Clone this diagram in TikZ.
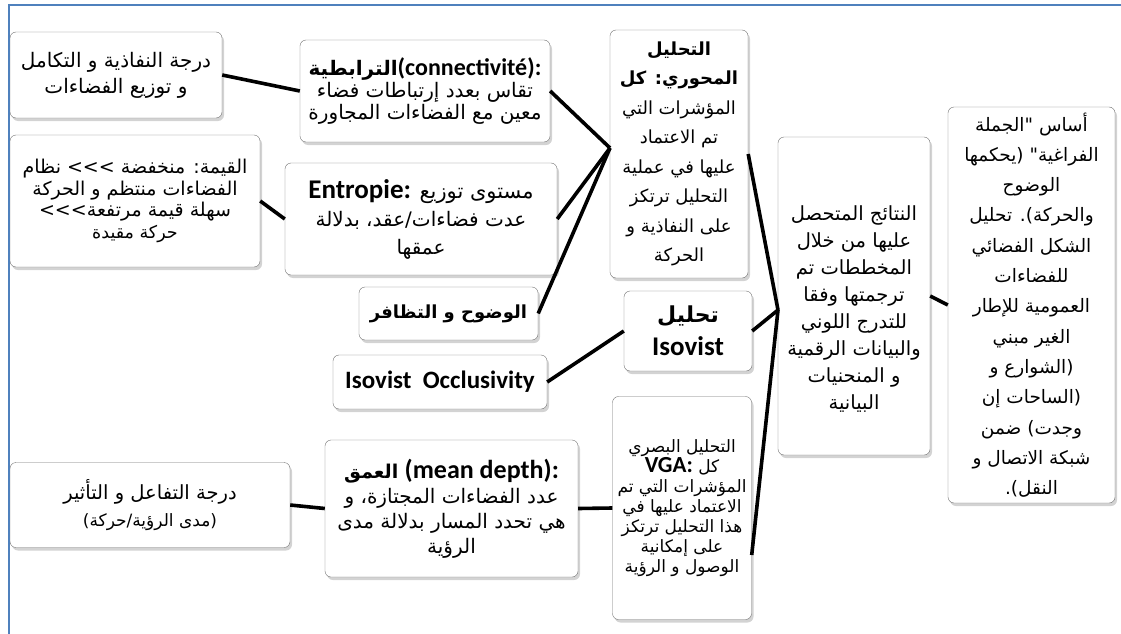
\documentclass[tikz,border=0pt]{standalone}
\usepackage{fontspec}
\setmainfont{DejaVu Sans}
\newfontfamily\arabicfont[Script=Arabic]{DejaVu Sans}
\newfontfamily\calibfont{Carlito}
\TeXXeTstate=1
\usetikzlibrary{shadows}

\newcommand{\artxt}[1]{{\arabicfont\beginR #1\endR}}
\newcommand{\lattxt}[1]{{\calibfont\bfseries #1}}
\newcommand{\fs}[2]{\fontsize{#1}{#2}\selectfont}

\definecolor{cadre}{RGB}{79,129,189}
\definecolor{bord}{RGB}{115,115,115}

\tikzset{
  boite/.style={draw=bord, fill=white, rounded corners=6pt, align=center, inner sep=1pt,
    drop shadow={shadow xshift=2pt, shadow yshift=-3pt, opacity=.35}},
  lien/.style={line width=3.6pt},
}

\begin{document}
\begin{tikzpicture}[x=1pt, y=-1pt]
    \useasboundingbox (0,0) rectangle (1121,634);

    % colonne de gauche
    \node[boite, minimum width=212pt, minimum height=86pt, font=\fs{20}{26}] (perm) at (116,75)
        {\artxt{درجة النفاذية و التكامل}\\\artxt{و توزيع الفضاءات}};
    \node[boite, minimum width=250pt, minimum height=132pt, font=\fs{19}{21.5}] (valeur) at (135,201)
        {\artxt{القيمة: منخفضة >>> نظام}\\\artxt{الفضاءات منتظم و الحركة}\\\artxt{سهلة قيمة مرتفعة>>>}\\{\fs{17.5}{21.5}\artxt{حركة مقيدة}}};
    \node[boite, minimum width=280pt, minimum height=85pt, font=\fs{19.5}{27}] (interac) at (150,505)
        {\artxt{درجة التفاعل و التأثير}\\{\fs{17}{27}\artxt{(مدى الرؤية/حركة)}}};

    % colonne du milieu
    \node[boite, minimum width=250pt, minimum height=102pt, font=\fs{20}{22}] (connect) at (425,91)
        {{\fs{20}{22}\artxt{\bfseries الترابطية}}{\fs{24}{22}\lattxt{(connectivité):}}\\\artxt{تقاس بعدد إرتباطات فضاء}\\\artxt{معين مع الفضاءات المجاورة}};
    \node[boite, minimum width=272pt, minimum height=112pt, font=\fs{20}{28}] (entropie) at (421,219)
        {{\fs{27}{28}\lattxt{Entropie:}} {\fs{21}{28}\artxt{مستوى توزيع}}\\\artxt{عدت فضاءات/عقد، بدلالة}\\\artxt{عمقها}};
    \node[boite, minimum width=179pt, minimum height=53pt, font=\fs{18}{22}] (clarte) at (448.5,313.5)
        {\artxt{\bfseries الوضوح و التظافر}};
    \node[boite, minimum width=214pt, minimum height=54pt, font=\fs{25}{26}] (occlu) at (440,382)
        {\lattxt{Isovist~~Occlusivity}};
    \node[boite, minimum width=253pt, minimum height=137pt, font=\fs{20}{25}] (profond) at (451.5,508.5)
        {{\fs{19}{25}\artxt{\bfseries العمق}} {\fs{26}{25}\lattxt{(mean depth):}}\\\artxt{عدد الفضاءات المجتازة، و}\\\artxt{هي تحدد المسار بدلالة مدى}\\\artxt{الرؤية}};

    % analyses
    \node[boite, minimum width=138pt, minimum height=248pt, font=\fs{18}{29.5}] (axial) at (679,154)
        {\artxt{\bfseries التحليل}\\\artxt{\bfseries المحوري: كل}\\\artxt{المؤشرات التي}\\\artxt{تم الاعتماد}\\\artxt{عليها في عملية}\\\artxt{التحليل ترتكز}\\\artxt{على النفاذية و}\\\artxt{الحركة}};
    \node[boite, minimum width=128pt, minimum height=80pt, font=\fs{22}{33}] (isov) at (688,331)
        {\artxt{\bfseries تحليل}\\{\fs{27}{33}\lattxt{Isovist}}};
    \node[boite, minimum width=139pt, minimum height=223pt, font=\fs{17}{20}] (vga) at (682,508)
        {\artxt{التحليل البصري}\\{\fs{23}{26}\lattxt{VGA:}} \artxt{كل}\\\artxt{المؤشرات التي تم}\\\artxt{الاعتماد عليها في}\\\artxt{هذا التحليل ترتكز}\\\artxt{على إمكانية}\\\artxt{الوصول و الرؤية}};

    % synthese
    \node[boite, minimum width=152pt, minimum height=318pt, font=\fs{19.5}{27}] (result) at (854,296)
        {\rule{0pt}{40pt}\artxt{النتائج المتحصل}\\\artxt{عليها من خلال}\\\artxt{المخططات تم}\\\artxt{ترجمتها وفقا}\\\artxt{للتدرج اللوني}\\\artxt{والبيانات الرقمية}\\\artxt{و المنحنيات}\\\artxt{البيانية}};
    \node[boite, minimum width=167pt, minimum height=396pt, font=\fs{18.5}{30.3}] (base) at (1031.5,305)
        {\artxt{أساس "الجملة}\\\artxt{الفراغية" (يحكمها}\\\artxt{الوضوح}\\\artxt{والحركة). تحليل}\\\artxt{الشكل الفضائي}\\\artxt{للفضاءات}\\\artxt{العمومية للإطار}\\\artxt{الغير مبني}\\\artxt{(الشوارع و}\\\artxt{(الساحات إن}\\\artxt{وجدت) ضمن}\\\artxt{شبكة الاتصال و}\\\artxt{النقل).}};

    \coordinate (gin) at (610,148);
    \coordinate (iin) at (778,310);

    \draw[lien] (perm.east) -- (connect.west);
    \draw[lien] (valeur.east) -- (entropie.west);
    \draw[lien] (interac.east) -- (profond.west);
    \draw[lien] (connect.east) -- (gin);
    \draw[lien] (entropie.east) -- (gin);
    \draw[lien] (clarte.east) -- (gin);
    \draw[lien] (occlu.east) -- (isov.west);
    \draw[lien] (profond.east) -- (vga.west);
    \draw[lien] (axial.east) -- (iin);
    \draw[lien] (isov.east) -- (iin);
    \draw[lien] (vga.-34) -- (iin);
    \draw[lien] (result.east) -- (base.west);

    \draw[cadre, line width=2pt] (1121,5) -- (9,5) -- (9,634);
\end{tikzpicture}
\end{document}
